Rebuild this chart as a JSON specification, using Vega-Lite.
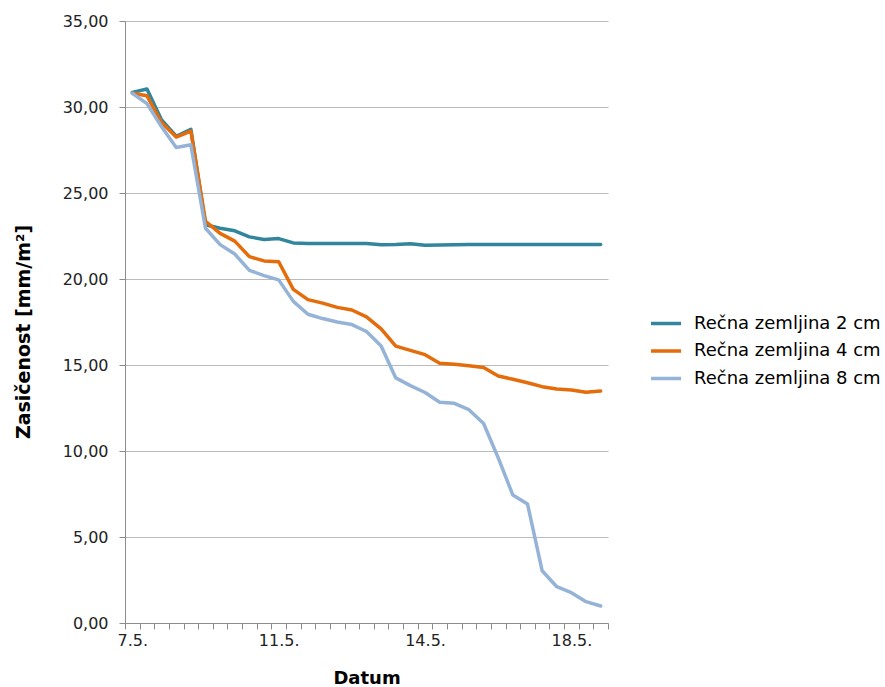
{
  "$schema": "https://vega.github.io/schema/vega-lite/v6.json",
  "width": 483,
  "height": 602,
  "autosize": {"type": "none"},
  "padding": {"left": 125, "top": 21, "right": 277, "bottom": 64},
  "background": "white",
  "data": {"values": [
    {"i": 0, "s": "Rečna zemljina 2 cm", "v": 30.85},
    {"i": 1, "s": "Rečna zemljina 2 cm", "v": 31.05},
    {"i": 2, "s": "Rečna zemljina 2 cm", "v": 29.25},
    {"i": 3, "s": "Rečna zemljina 2 cm", "v": 28.3},
    {"i": 4, "s": "Rečna zemljina 2 cm", "v": 28.7},
    {"i": 5, "s": "Rečna zemljina 2 cm", "v": 23.15},
    {"i": 6, "s": "Rečna zemljina 2 cm", "v": 22.95},
    {"i": 7, "s": "Rečna zemljina 2 cm", "v": 22.8},
    {"i": 8, "s": "Rečna zemljina 2 cm", "v": 22.45},
    {"i": 9, "s": "Rečna zemljina 2 cm", "v": 22.3},
    {"i": 10, "s": "Rečna zemljina 2 cm", "v": 22.35},
    {"i": 11, "s": "Rečna zemljina 2 cm", "v": 22.1},
    {"i": 12, "s": "Rečna zemljina 2 cm", "v": 22.07},
    {"i": 13, "s": "Rečna zemljina 2 cm", "v": 22.07},
    {"i": 14, "s": "Rečna zemljina 2 cm", "v": 22.07},
    {"i": 15, "s": "Rečna zemljina 2 cm", "v": 22.07},
    {"i": 16, "s": "Rečna zemljina 2 cm", "v": 22.06},
    {"i": 17, "s": "Rečna zemljina 2 cm", "v": 21.99},
    {"i": 18, "s": "Rečna zemljina 2 cm", "v": 22.0},
    {"i": 19, "s": "Rečna zemljina 2 cm", "v": 22.05},
    {"i": 20, "s": "Rečna zemljina 2 cm", "v": 21.96},
    {"i": 21, "s": "Rečna zemljina 2 cm", "v": 21.98},
    {"i": 22, "s": "Rečna zemljina 2 cm", "v": 21.99},
    {"i": 23, "s": "Rečna zemljina 2 cm", "v": 22.0},
    {"i": 24, "s": "Rečna zemljina 2 cm", "v": 22.0},
    {"i": 25, "s": "Rečna zemljina 2 cm", "v": 22.0},
    {"i": 26, "s": "Rečna zemljina 2 cm", "v": 22.0},
    {"i": 27, "s": "Rečna zemljina 2 cm", "v": 22.0},
    {"i": 28, "s": "Rečna zemljina 2 cm", "v": 22.0},
    {"i": 29, "s": "Rečna zemljina 2 cm", "v": 22.0},
    {"i": 30, "s": "Rečna zemljina 2 cm", "v": 22.0},
    {"i": 31, "s": "Rečna zemljina 2 cm", "v": 22.0},
    {"i": 32, "s": "Rečna zemljina 2 cm", "v": 22.0},
    {"i": 0, "s": "Rečna zemljina 4 cm", "v": 30.8},
    {"i": 1, "s": "Rečna zemljina 4 cm", "v": 30.65},
    {"i": 2, "s": "Rečna zemljina 4 cm", "v": 29.1},
    {"i": 3, "s": "Rečna zemljina 4 cm", "v": 28.25},
    {"i": 4, "s": "Rečna zemljina 4 cm", "v": 28.6},
    {"i": 5, "s": "Rečna zemljina 4 cm", "v": 23.35},
    {"i": 6, "s": "Rečna zemljina 4 cm", "v": 22.65},
    {"i": 7, "s": "Rečna zemljina 4 cm", "v": 22.2},
    {"i": 8, "s": "Rečna zemljina 4 cm", "v": 21.3},
    {"i": 9, "s": "Rečna zemljina 4 cm", "v": 21.05},
    {"i": 10, "s": "Rečna zemljina 4 cm", "v": 21.0},
    {"i": 11, "s": "Rečna zemljina 4 cm", "v": 19.4},
    {"i": 12, "s": "Rečna zemljina 4 cm", "v": 18.8},
    {"i": 13, "s": "Rečna zemljina 4 cm", "v": 18.6},
    {"i": 14, "s": "Rečna zemljina 4 cm", "v": 18.35},
    {"i": 15, "s": "Rečna zemljina 4 cm", "v": 18.2},
    {"i": 16, "s": "Rečna zemljina 4 cm", "v": 17.8},
    {"i": 17, "s": "Rečna zemljina 4 cm", "v": 17.1},
    {"i": 18, "s": "Rečna zemljina 4 cm", "v": 16.1},
    {"i": 19, "s": "Rečna zemljina 4 cm", "v": 15.85},
    {"i": 20, "s": "Rečna zemljina 4 cm", "v": 15.6},
    {"i": 21, "s": "Rečna zemljina 4 cm", "v": 15.1},
    {"i": 22, "s": "Rečna zemljina 4 cm", "v": 15.05},
    {"i": 23, "s": "Rečna zemljina 4 cm", "v": 14.95},
    {"i": 24, "s": "Rečna zemljina 4 cm", "v": 14.85},
    {"i": 25, "s": "Rečna zemljina 4 cm", "v": 14.36},
    {"i": 26, "s": "Rečna zemljina 4 cm", "v": 14.17},
    {"i": 27, "s": "Rečna zemljina 4 cm", "v": 13.97},
    {"i": 28, "s": "Rečna zemljina 4 cm", "v": 13.74},
    {"i": 29, "s": "Rečna zemljina 4 cm", "v": 13.6},
    {"i": 30, "s": "Rečna zemljina 4 cm", "v": 13.55},
    {"i": 31, "s": "Rečna zemljina 4 cm", "v": 13.41},
    {"i": 32, "s": "Rečna zemljina 4 cm", "v": 13.49},
    {"i": 0, "s": "Rečna zemljina 8 cm", "v": 30.8},
    {"i": 1, "s": "Rečna zemljina 8 cm", "v": 30.2},
    {"i": 2, "s": "Rečna zemljina 8 cm", "v": 28.85},
    {"i": 3, "s": "Rečna zemljina 8 cm", "v": 27.65},
    {"i": 4, "s": "Rečna zemljina 8 cm", "v": 27.8},
    {"i": 5, "s": "Rečna zemljina 8 cm", "v": 22.95},
    {"i": 6, "s": "Rečna zemljina 8 cm", "v": 22.0},
    {"i": 7, "s": "Rečna zemljina 8 cm", "v": 21.45},
    {"i": 8, "s": "Rečna zemljina 8 cm", "v": 20.5},
    {"i": 9, "s": "Rečna zemljina 8 cm", "v": 20.2},
    {"i": 10, "s": "Rečna zemljina 8 cm", "v": 19.95},
    {"i": 11, "s": "Rečna zemljina 8 cm", "v": 18.7},
    {"i": 12, "s": "Rečna zemljina 8 cm", "v": 17.95},
    {"i": 13, "s": "Rečna zemljina 8 cm", "v": 17.7},
    {"i": 14, "s": "Rečna zemljina 8 cm", "v": 17.5},
    {"i": 15, "s": "Rečna zemljina 8 cm", "v": 17.35},
    {"i": 16, "s": "Rečna zemljina 8 cm", "v": 16.95},
    {"i": 17, "s": "Rečna zemljina 8 cm", "v": 16.1},
    {"i": 18, "s": "Rečna zemljina 8 cm", "v": 14.25},
    {"i": 19, "s": "Rečna zemljina 8 cm", "v": 13.8},
    {"i": 20, "s": "Rečna zemljina 8 cm", "v": 13.4},
    {"i": 21, "s": "Rečna zemljina 8 cm", "v": 12.83},
    {"i": 22, "s": "Rečna zemljina 8 cm", "v": 12.77},
    {"i": 23, "s": "Rečna zemljina 8 cm", "v": 12.4},
    {"i": 24, "s": "Rečna zemljina 8 cm", "v": 11.6},
    {"i": 25, "s": "Rečna zemljina 8 cm", "v": 9.6},
    {"i": 26, "s": "Rečna zemljina 8 cm", "v": 7.44},
    {"i": 27, "s": "Rečna zemljina 8 cm", "v": 6.92},
    {"i": 28, "s": "Rečna zemljina 8 cm", "v": 3.04},
    {"i": 29, "s": "Rečna zemljina 8 cm", "v": 2.11},
    {"i": 30, "s": "Rečna zemljina 8 cm", "v": 1.76},
    {"i": 31, "s": "Rečna zemljina 8 cm", "v": 1.24},
    {"i": 32, "s": "Rečna zemljina 8 cm", "v": 0.99}
  ]},
  "mark": {"type": "line", "strokeWidth": 3.5, "strokeJoin": "round", "strokeCap": "round"},
  "encoding": {
    "x": {
      "field": "i",
      "type": "ordinal",
      "bandPosition": 0.5,
      "scale": {"type": "band", "paddingInner": 0, "paddingOuter": 0},
      "axis": {
        "title": "Datum",
        "titleFont": "DejaVu Sans",
        "titleFontWeight": "bold",
        "titleFontSize": 18,
        "titleColor": "#000000",
        "titleX": 241.5,
        "titleY": 60,
        "titleBaseline": "alphabetic",
        "labelExpr": "datum.value === 0 ? '7.5.' : datum.value === 10 ? '11.5.' : datum.value === 20 ? '14.5.' : datum.value === 30 ? '18.5.' : ''",
        "labelAngle": 0,
        "labelFont": "DejaVu Sans",
        "labelFontSize": 16,
        "labelColor": "#222222",
        "labelPadding": 3,
        "labelOverlap": false,
        "tickBand": "extent",
        "tickSize": 6,
        "tickColor": "#8C8C8C",
        "domainColor": "#8C8C8C",
        "grid": false
      }
    },
    "y": {
      "field": "v",
      "type": "quantitative",
      "scale": {"domain": [0, 35], "nice": false},
      "axis": {
        "title": "Zasičenost [mm/m²]",
        "titleFont": "DejaVu Sans",
        "titleFontWeight": "bold",
        "titleFontSize": 19,
        "titleColor": "#000000",
        "titleX": -95.5,
        "titleY": 310.5,
        "titleBaseline": "alphabetic",
        "titleAngle": 270,
        "titleAlign": "center",
        "values": [0, 5, 10, 15, 20, 25, 30, 35],
        "labelExpr": "replace(format(datum.value, '.2f'), '.', ',')",
        "labelFont": "DejaVu Sans",
        "labelFontSize": 16,
        "labelColor": "#222222",
        "labelPadding": 11,
        "tickSize": 6,
        "tickColor": "#8C8C8C",
        "domainColor": "#8C8C8C",
        "grid": true,
        "gridColor": "#BBBBBB",
        "gridWidth": 1
      }
    },
    "color": {
      "field": "s",
      "type": "nominal",
      "scale": {
        "domain": ["Rečna zemljina 2 cm", "Rečna zemljina 4 cm", "Rečna zemljina 8 cm"],
        "range": ["#31859C", "#E46C0A", "#95B3D7"]
      },
      "legend": {
        "title": null,
        "orient": "none",
        "legendX": 524,
        "legendY": 285.5,
        "padding": 0,
        "symbolType": "stroke",
        "symbolSize": 900,
        "symbolStrokeWidth": 3.5,
        "labelFont": "DejaVu Sans",
        "labelFontSize": 18,
        "labelColor": "#000000",
        "labelOffset": 11,
        "labelLimit": 400,
        "rowPadding": 1.5
      }
    }
  },
  "config": {"view": {"stroke": null}}
}
